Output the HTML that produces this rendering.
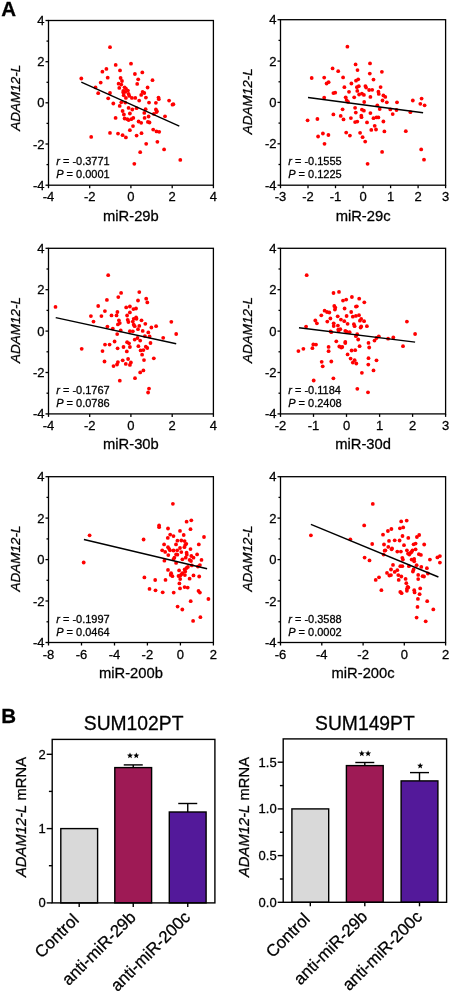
<!DOCTYPE html>
<html><head><meta charset="utf-8"><style>html,body{margin:0;padding:0;background:#fff;}svg{display:block;will-change:transform;}</style></head>
<body><svg width="451" height="992" viewBox="0 0 451 992" font-family="'Liberation Sans', sans-serif">
<style>text{stroke:#000;stroke-width:0.28px;}</style>
<rect width="451" height="992" fill="#fff"/>
<text x="1.3" y="15.8" font-size="20.5" font-weight="bold">A</text>
<g fill="#f00"><circle cx="115.7" cy="64.9" r="1.9"/><circle cx="131.0" cy="63.7" r="1.9"/><circle cx="102.4" cy="71.7" r="1.9"/><circle cx="106.4" cy="68.9" r="1.9"/><circle cx="120.0" cy="70.4" r="1.9"/><circle cx="134.9" cy="74.0" r="1.9"/><circle cx="142.3" cy="72.4" r="1.9"/><circle cx="107.7" cy="77.7" r="1.9"/><circle cx="120.6" cy="78.0" r="1.9"/><circle cx="138.2" cy="79.3" r="1.9"/><circle cx="152.5" cy="80.2" r="1.9"/><circle cx="100.7" cy="82.6" r="1.9"/><circle cx="122.0" cy="81.0" r="1.9"/><circle cx="118.6" cy="83.7" r="1.9"/><circle cx="121.3" cy="84.6" r="1.9"/><circle cx="137.2" cy="83.9" r="1.9"/><circle cx="119.3" cy="87.9" r="1.9"/><circle cx="124.6" cy="87.3" r="1.9"/><circle cx="125.9" cy="88.6" r="1.9"/><circle cx="147.6" cy="87.5" r="1.9"/><circle cx="123.3" cy="90.9" r="1.9"/><circle cx="127.9" cy="90.6" r="1.9"/><circle cx="123.3" cy="92.6" r="1.9"/><circle cx="125.3" cy="91.9" r="1.9"/><circle cx="142.6" cy="91.9" r="1.9"/><circle cx="144.3" cy="93.0" r="1.9"/><circle cx="110.0" cy="93.0" r="1.9"/><circle cx="128.6" cy="93.9" r="1.9"/><circle cx="141.2" cy="94.9" r="1.9"/><circle cx="123.7" cy="95.3" r="1.9"/><circle cx="129.3" cy="95.9" r="1.9"/><circle cx="131.9" cy="97.9" r="1.9"/><circle cx="135.3" cy="97.9" r="1.9"/><circle cx="145.9" cy="97.6" r="1.9"/><circle cx="158.5" cy="97.6" r="1.9"/><circle cx="158.8" cy="99.2" r="1.9"/><circle cx="108.2" cy="98.3" r="1.9"/><circle cx="125.9" cy="97.9" r="1.9"/><circle cx="139.2" cy="100.6" r="1.9"/><circle cx="121.3" cy="102.3" r="1.9"/><circle cx="125.3" cy="102.6" r="1.9"/><circle cx="149.0" cy="102.6" r="1.9"/><circle cx="155.9" cy="102.8" r="1.9"/><circle cx="113.3" cy="103.5" r="1.9"/><circle cx="119.7" cy="105.9" r="1.9"/><circle cx="128.6" cy="107.9" r="1.9"/><circle cx="132.3" cy="109.5" r="1.9"/><circle cx="136.6" cy="108.2" r="1.9"/><circle cx="145.6" cy="109.2" r="1.9"/><circle cx="155.9" cy="109.5" r="1.9"/><circle cx="156.9" cy="111.2" r="1.9"/><circle cx="122.6" cy="111.0" r="1.9"/><circle cx="144.3" cy="112.9" r="1.9"/><circle cx="156.5" cy="112.1" r="1.9"/><circle cx="123.9" cy="114.5" r="1.9"/><circle cx="129.9" cy="113.5" r="1.9"/><circle cx="153.9" cy="113.9" r="1.9"/><circle cx="115.6" cy="117.9" r="1.9"/><circle cx="124.6" cy="118.5" r="1.9"/><circle cx="127.3" cy="119.2" r="1.9"/><circle cx="128.6" cy="120.1" r="1.9"/><circle cx="131.3" cy="119.2" r="1.9"/><circle cx="133.3" cy="117.9" r="1.9"/><circle cx="144.6" cy="117.9" r="1.9"/><circle cx="148.6" cy="116.5" r="1.9"/><circle cx="138.6" cy="121.5" r="1.9"/><circle cx="141.2" cy="122.8" r="1.9"/><circle cx="147.9" cy="121.9" r="1.9"/><circle cx="149.5" cy="122.5" r="1.9"/><circle cx="133.0" cy="126.1" r="1.9"/><circle cx="129.9" cy="130.2" r="1.9"/><circle cx="153.2" cy="129.6" r="1.9"/><circle cx="156.5" cy="131.4" r="1.9"/><circle cx="159.2" cy="131.8" r="1.9"/><circle cx="110.0" cy="132.9" r="1.9"/><circle cx="118.0" cy="133.6" r="1.9"/><circle cx="122.6" cy="135.2" r="1.9"/><circle cx="125.9" cy="137.4" r="1.9"/><circle cx="136.6" cy="135.6" r="1.9"/><circle cx="141.5" cy="133.2" r="1.9"/><circle cx="110.0" cy="47.2" r="1.9"/><circle cx="81.3" cy="78.5" r="1.9"/><circle cx="95.5" cy="87.4" r="1.9"/><circle cx="98.2" cy="93.2" r="1.9"/><circle cx="91.2" cy="136.9" r="1.9"/><circle cx="169.1" cy="100.6" r="1.9"/><circle cx="172.5" cy="104.7" r="1.9"/><circle cx="173.4" cy="104.2" r="1.9"/><circle cx="165.0" cy="116.3" r="1.9"/><circle cx="157.4" cy="141.8" r="1.9"/><circle cx="146.2" cy="143.8" r="1.9"/><circle cx="164.1" cy="149.4" r="1.9"/><circle cx="140.2" cy="152.2" r="1.9"/><circle cx="180.3" cy="159.9" r="1.9"/><circle cx="134.3" cy="163.8" r="1.9"/></g>
<line x1="81.3" y1="82.2" x2="179.3" y2="126.1" stroke="#000" stroke-width="1.4"/>
<rect x="48.5" y="20.5" width="164.9" height="164.7" fill="none" stroke="#000" stroke-width="1.3"/>
<line x1="45.5" y1="185.2" x2="48.5" y2="185.2" stroke="#000" stroke-width="1.3"/>
<text x="44.5" y="189.7" font-size="13" text-anchor="end">-4</text>
<line x1="46.5" y1="164.6" x2="48.5" y2="164.6" stroke="#000" stroke-width="1.3"/>
<line x1="45.5" y1="144.0" x2="48.5" y2="144.0" stroke="#000" stroke-width="1.3"/>
<text x="44.5" y="148.5" font-size="13" text-anchor="end">-2</text>
<line x1="46.5" y1="123.4" x2="48.5" y2="123.4" stroke="#000" stroke-width="1.3"/>
<line x1="45.5" y1="102.8" x2="48.5" y2="102.8" stroke="#000" stroke-width="1.3"/>
<text x="44.5" y="107.3" font-size="13" text-anchor="end">0</text>
<line x1="46.5" y1="82.3" x2="48.5" y2="82.3" stroke="#000" stroke-width="1.3"/>
<line x1="45.5" y1="61.7" x2="48.5" y2="61.7" stroke="#000" stroke-width="1.3"/>
<text x="44.5" y="66.2" font-size="13" text-anchor="end">2</text>
<line x1="46.5" y1="41.1" x2="48.5" y2="41.1" stroke="#000" stroke-width="1.3"/>
<line x1="45.5" y1="20.5" x2="48.5" y2="20.5" stroke="#000" stroke-width="1.3"/>
<text x="44.5" y="25.0" font-size="13" text-anchor="end">4</text>
<line x1="48.5" y1="185.2" x2="48.5" y2="188.2" stroke="#000" stroke-width="1.3"/>
<text x="48.5" y="201.2" font-size="13" text-anchor="middle">-4</text>
<line x1="89.7" y1="185.2" x2="89.7" y2="188.2" stroke="#000" stroke-width="1.3"/>
<text x="89.7" y="201.2" font-size="13" text-anchor="middle">-2</text>
<line x1="130.9" y1="185.2" x2="130.9" y2="188.2" stroke="#000" stroke-width="1.3"/>
<text x="130.9" y="201.2" font-size="13" text-anchor="middle">0</text>
<line x1="172.2" y1="185.2" x2="172.2" y2="188.2" stroke="#000" stroke-width="1.3"/>
<text x="172.2" y="201.2" font-size="13" text-anchor="middle">2</text>
<line x1="213.4" y1="185.2" x2="213.4" y2="188.2" stroke="#000" stroke-width="1.3"/>
<text x="213.4" y="201.2" font-size="13" text-anchor="middle">4</text>
<text x="130.9" y="220.5" font-size="14.75" text-anchor="middle">miR-29b</text>
<text transform="translate(20.3,97.8) rotate(-90)" font-size="13.5" font-style="italic" text-anchor="middle">ADAM12-L</text>
<text x="56.2" y="165.4" font-size="11"><tspan font-style="italic">r</tspan> = -0.3771</text>
<text x="56.2" y="178.4" font-size="11"><tspan font-style="italic">P</tspan> = 0.0001</text>
<g fill="#f00"><circle cx="347.4" cy="46.7" r="1.9"/><circle cx="355.6" cy="64.4" r="1.9"/><circle cx="332.6" cy="68.4" r="1.9"/><circle cx="338.2" cy="71.2" r="1.9"/><circle cx="357.5" cy="70.1" r="1.9"/><circle cx="311.7" cy="78.0" r="1.9"/><circle cx="324.2" cy="77.6" r="1.9"/><circle cx="343.1" cy="77.4" r="1.9"/><circle cx="356.0" cy="80.7" r="1.9"/><circle cx="358.2" cy="79.3" r="1.9"/><circle cx="326.6" cy="83.5" r="1.9"/><circle cx="328.6" cy="82.2" r="1.9"/><circle cx="351.4" cy="83.5" r="1.9"/><circle cx="344.4" cy="87.2" r="1.9"/><circle cx="356.9" cy="87.2" r="1.9"/><circle cx="358.8" cy="86.2" r="1.9"/><circle cx="357.3" cy="90.9" r="1.9"/><circle cx="349.0" cy="91.8" r="1.9"/><circle cx="333.4" cy="93.1" r="1.9"/><circle cx="335.2" cy="92.7" r="1.9"/><circle cx="359.1" cy="94.5" r="1.9"/><circle cx="361.9" cy="93.6" r="1.9"/><circle cx="324.2" cy="97.7" r="1.9"/><circle cx="345.7" cy="97.3" r="1.9"/><circle cx="354.2" cy="97.3" r="1.9"/><circle cx="346.6" cy="100.1" r="1.9"/><circle cx="348.1" cy="101.9" r="1.9"/><circle cx="342.6" cy="109.3" r="1.9"/><circle cx="355.1" cy="107.8" r="1.9"/><circle cx="361.9" cy="109.6" r="1.9"/><circle cx="333.4" cy="114.4" r="1.9"/><circle cx="340.7" cy="115.9" r="1.9"/><circle cx="355.8" cy="112.6" r="1.9"/><circle cx="361.3" cy="115.7" r="1.9"/><circle cx="361.5" cy="117.2" r="1.9"/><circle cx="307.6" cy="120.3" r="1.9"/><circle cx="317.4" cy="119.0" r="1.9"/><circle cx="343.5" cy="119.4" r="1.9"/><circle cx="350.9" cy="118.1" r="1.9"/><circle cx="355.1" cy="122.1" r="1.9"/><circle cx="357.3" cy="121.6" r="1.9"/><circle cx="346.2" cy="132.6" r="1.9"/><circle cx="322.9" cy="133.5" r="1.9"/><circle cx="328.4" cy="135.0" r="1.9"/><circle cx="349.9" cy="135.6" r="1.9"/><circle cx="360.1" cy="132.8" r="1.9"/><circle cx="362.6" cy="137.2" r="1.9"/><circle cx="318.1" cy="136.5" r="1.9"/><circle cx="324.5" cy="143.8" r="1.9"/><circle cx="370.0" cy="63.4" r="1.9"/><circle cx="369.8" cy="73.6" r="1.9"/><circle cx="381.9" cy="71.8" r="1.9"/><circle cx="373.5" cy="79.6" r="1.9"/><circle cx="365.4" cy="86.1" r="1.9"/><circle cx="366.1" cy="87.6" r="1.9"/><circle cx="380.6" cy="87.1" r="1.9"/><circle cx="369.1" cy="90.0" r="1.9"/><circle cx="372.2" cy="89.8" r="1.9"/><circle cx="378.4" cy="91.7" r="1.9"/><circle cx="378.8" cy="93.9" r="1.9"/><circle cx="363.9" cy="94.9" r="1.9"/><circle cx="370.4" cy="96.9" r="1.9"/><circle cx="383.4" cy="95.4" r="1.9"/><circle cx="385.3" cy="96.9" r="1.9"/><circle cx="364.2" cy="102.0" r="1.9"/><circle cx="382.5" cy="100.5" r="1.9"/><circle cx="386.8" cy="102.3" r="1.9"/><circle cx="397.0" cy="102.3" r="1.9"/><circle cx="412.8" cy="100.5" r="1.9"/><circle cx="421.6" cy="98.6" r="1.9"/><circle cx="420.3" cy="103.8" r="1.9"/><circle cx="424.6" cy="105.3" r="1.9"/><circle cx="377.3" cy="105.3" r="1.9"/><circle cx="379.7" cy="109.0" r="1.9"/><circle cx="390.3" cy="109.4" r="1.9"/><circle cx="396.5" cy="110.0" r="1.9"/><circle cx="363.9" cy="110.7" r="1.9"/><circle cx="392.7" cy="114.1" r="1.9"/><circle cx="410.4" cy="112.2" r="1.9"/><circle cx="370.4" cy="113.1" r="1.9"/><circle cx="373.5" cy="118.2" r="1.9"/><circle cx="376.5" cy="117.4" r="1.9"/><circle cx="378.4" cy="117.4" r="1.9"/><circle cx="367.0" cy="122.4" r="1.9"/><circle cx="383.4" cy="121.5" r="1.9"/><circle cx="374.7" cy="125.8" r="1.9"/><circle cx="371.3" cy="129.9" r="1.9"/><circle cx="376.0" cy="129.5" r="1.9"/><circle cx="384.4" cy="131.4" r="1.9"/><circle cx="405.8" cy="131.2" r="1.9"/><circle cx="365.2" cy="141.6" r="1.9"/><circle cx="421.2" cy="149.4" r="1.9"/><circle cx="382.1" cy="151.9" r="1.9"/><circle cx="424.0" cy="159.7" r="1.9"/><circle cx="367.6" cy="163.8" r="1.9"/></g>
<line x1="308" y1="97.5" x2="423.1" y2="112.8" stroke="#000" stroke-width="1.4"/>
<rect x="280.5" y="19.7" width="165.1" height="165.5" fill="none" stroke="#000" stroke-width="1.3"/>
<line x1="277.5" y1="185.2" x2="280.5" y2="185.2" stroke="#000" stroke-width="1.3"/>
<text x="276.5" y="189.7" font-size="13" text-anchor="end">-4</text>
<line x1="278.5" y1="164.5" x2="280.5" y2="164.5" stroke="#000" stroke-width="1.3"/>
<line x1="277.5" y1="143.8" x2="280.5" y2="143.8" stroke="#000" stroke-width="1.3"/>
<text x="276.5" y="148.3" font-size="13" text-anchor="end">-2</text>
<line x1="278.5" y1="123.1" x2="280.5" y2="123.1" stroke="#000" stroke-width="1.3"/>
<line x1="277.5" y1="102.4" x2="280.5" y2="102.4" stroke="#000" stroke-width="1.3"/>
<text x="276.5" y="106.9" font-size="13" text-anchor="end">0</text>
<line x1="278.5" y1="81.8" x2="280.5" y2="81.8" stroke="#000" stroke-width="1.3"/>
<line x1="277.5" y1="61.1" x2="280.5" y2="61.1" stroke="#000" stroke-width="1.3"/>
<text x="276.5" y="65.6" font-size="13" text-anchor="end">2</text>
<line x1="278.5" y1="40.4" x2="280.5" y2="40.4" stroke="#000" stroke-width="1.3"/>
<line x1="277.5" y1="19.7" x2="280.5" y2="19.7" stroke="#000" stroke-width="1.3"/>
<text x="276.5" y="24.2" font-size="13" text-anchor="end">4</text>
<line x1="280.5" y1="185.2" x2="280.5" y2="188.2" stroke="#000" stroke-width="1.3"/>
<text x="280.5" y="201.2" font-size="13" text-anchor="middle">-3</text>
<line x1="308.0" y1="185.2" x2="308.0" y2="188.2" stroke="#000" stroke-width="1.3"/>
<text x="308.0" y="201.2" font-size="13" text-anchor="middle">-2</text>
<line x1="335.5" y1="185.2" x2="335.5" y2="188.2" stroke="#000" stroke-width="1.3"/>
<text x="335.5" y="201.2" font-size="13" text-anchor="middle">-1</text>
<line x1="363.1" y1="185.2" x2="363.1" y2="188.2" stroke="#000" stroke-width="1.3"/>
<text x="363.1" y="201.2" font-size="13" text-anchor="middle">0</text>
<line x1="390.6" y1="185.2" x2="390.6" y2="188.2" stroke="#000" stroke-width="1.3"/>
<text x="390.6" y="201.2" font-size="13" text-anchor="middle">1</text>
<line x1="418.1" y1="185.2" x2="418.1" y2="188.2" stroke="#000" stroke-width="1.3"/>
<text x="418.1" y="201.2" font-size="13" text-anchor="middle">2</text>
<line x1="445.6" y1="185.2" x2="445.6" y2="188.2" stroke="#000" stroke-width="1.3"/>
<text x="445.6" y="201.2" font-size="13" text-anchor="middle">3</text>
<text x="363.1" y="220.5" font-size="14.75" text-anchor="middle">miR-29c</text>
<text transform="translate(252.3,101.3) rotate(-90)" font-size="13.5" font-style="italic" text-anchor="middle">ADAM12-L</text>
<text x="288.2" y="165.4" font-size="11"><tspan font-style="italic">r</tspan> = -0.1555</text>
<text x="288.2" y="178.4" font-size="11"><tspan font-style="italic">P</tspan> = 0.1225</text>
<g fill="#f00"><circle cx="108.2" cy="275.2" r="1.9"/><circle cx="121.1" cy="292.9" r="1.9"/><circle cx="118.3" cy="297.1" r="1.9"/><circle cx="106.9" cy="299.9" r="1.9"/><circle cx="55.5" cy="306.9" r="1.9"/><circle cx="98.2" cy="306.0" r="1.9"/><circle cx="126.2" cy="307.4" r="1.9"/><circle cx="129.9" cy="306.5" r="1.9"/><circle cx="104.9" cy="311.1" r="1.9"/><circle cx="117.4" cy="312.0" r="1.9"/><circle cx="129.9" cy="312.4" r="1.9"/><circle cx="90.9" cy="316.1" r="1.9"/><circle cx="101.4" cy="316.1" r="1.9"/><circle cx="111.5" cy="315.4" r="1.9"/><circle cx="116.5" cy="315.4" r="1.9"/><circle cx="127.1" cy="315.5" r="1.9"/><circle cx="93.5" cy="321.6" r="1.9"/><circle cx="118.9" cy="320.3" r="1.9"/><circle cx="127.7" cy="319.8" r="1.9"/><circle cx="128.4" cy="322.0" r="1.9"/><circle cx="119.8" cy="323.1" r="1.9"/><circle cx="117.9" cy="324.4" r="1.9"/><circle cx="107.4" cy="326.6" r="1.9"/><circle cx="112.8" cy="328.6" r="1.9"/><circle cx="120.7" cy="330.4" r="1.9"/><circle cx="129.9" cy="331.2" r="1.9"/><circle cx="117.2" cy="334.1" r="1.9"/><circle cx="114.6" cy="341.5" r="1.9"/><circle cx="105.0" cy="344.6" r="1.9"/><circle cx="109.6" cy="344.6" r="1.9"/><circle cx="127.1" cy="342.2" r="1.9"/><circle cx="129.0" cy="343.3" r="1.9"/><circle cx="81.7" cy="348.8" r="1.9"/><circle cx="102.5" cy="351.1" r="1.9"/><circle cx="117.6" cy="348.3" r="1.9"/><circle cx="123.5" cy="347.0" r="1.9"/><circle cx="129.9" cy="347.0" r="1.9"/><circle cx="126.8" cy="351.4" r="1.9"/><circle cx="104.5" cy="361.5" r="1.9"/><circle cx="117.9" cy="362.1" r="1.9"/><circle cx="122.7" cy="360.3" r="1.9"/><circle cx="128.1" cy="359.0" r="1.9"/><circle cx="117.0" cy="364.5" r="1.9"/><circle cx="125.8" cy="363.9" r="1.9"/><circle cx="129.9" cy="364.9" r="1.9"/><circle cx="113.5" cy="366.1" r="1.9"/><circle cx="119.8" cy="380.7" r="1.9"/><circle cx="139.3" cy="292.1" r="1.9"/><circle cx="138.0" cy="300.5" r="1.9"/><circle cx="146.2" cy="298.7" r="1.9"/><circle cx="147.3" cy="302.4" r="1.9"/><circle cx="133.4" cy="309.1" r="1.9"/><circle cx="136.0" cy="308.5" r="1.9"/><circle cx="133.7" cy="318.8" r="1.9"/><circle cx="136.1" cy="317.3" r="1.9"/><circle cx="136.5" cy="318.8" r="1.9"/><circle cx="141.5" cy="320.3" r="1.9"/><circle cx="132.8" cy="321.6" r="1.9"/><circle cx="145.3" cy="323.8" r="1.9"/><circle cx="171.3" cy="321.8" r="1.9"/><circle cx="133.7" cy="324.7" r="1.9"/><circle cx="139.3" cy="325.9" r="1.9"/><circle cx="156.1" cy="326.2" r="1.9"/><circle cx="151.4" cy="327.5" r="1.9"/><circle cx="134.7" cy="326.2" r="1.9"/><circle cx="132.8" cy="331.3" r="1.9"/><circle cx="138.0" cy="329.2" r="1.9"/><circle cx="142.7" cy="330.9" r="1.9"/><circle cx="148.3" cy="332.4" r="1.9"/><circle cx="176.2" cy="334.0" r="1.9"/><circle cx="144.9" cy="336.1" r="1.9"/><circle cx="149.6" cy="336.5" r="1.9"/><circle cx="137.5" cy="338.0" r="1.9"/><circle cx="134.7" cy="339.6" r="1.9"/><circle cx="140.2" cy="340.6" r="1.9"/><circle cx="163.2" cy="337.8" r="1.9"/><circle cx="150.5" cy="343.0" r="1.9"/><circle cx="138.4" cy="346.2" r="1.9"/><circle cx="145.8" cy="346.7" r="1.9"/><circle cx="147.3" cy="348.0" r="1.9"/><circle cx="140.6" cy="350.4" r="1.9"/><circle cx="143.4" cy="350.1" r="1.9"/><circle cx="142.1" cy="354.7" r="1.9"/><circle cx="153.8" cy="358.3" r="1.9"/><circle cx="144.0" cy="360.1" r="1.9"/><circle cx="130.9" cy="362.5" r="1.9"/><circle cx="143.4" cy="370.4" r="1.9"/><circle cx="140.2" cy="372.4" r="1.9"/><circle cx="135.0" cy="378.2" r="1.9"/><circle cx="149.0" cy="388.6" r="1.9"/><circle cx="148.1" cy="392.5" r="1.9"/></g>
<line x1="55.7" y1="317.6" x2="176.2" y2="343.7" stroke="#000" stroke-width="1.4"/>
<rect x="48.5" y="248.3" width="164.9" height="165.6" fill="none" stroke="#000" stroke-width="1.3"/>
<line x1="45.5" y1="413.9" x2="48.5" y2="413.9" stroke="#000" stroke-width="1.3"/>
<text x="44.5" y="418.4" font-size="13" text-anchor="end">-4</text>
<line x1="46.5" y1="393.2" x2="48.5" y2="393.2" stroke="#000" stroke-width="1.3"/>
<line x1="45.5" y1="372.5" x2="48.5" y2="372.5" stroke="#000" stroke-width="1.3"/>
<text x="44.5" y="377.0" font-size="13" text-anchor="end">-2</text>
<line x1="46.5" y1="351.8" x2="48.5" y2="351.8" stroke="#000" stroke-width="1.3"/>
<line x1="45.5" y1="331.1" x2="48.5" y2="331.1" stroke="#000" stroke-width="1.3"/>
<text x="44.5" y="335.6" font-size="13" text-anchor="end">0</text>
<line x1="46.5" y1="310.4" x2="48.5" y2="310.4" stroke="#000" stroke-width="1.3"/>
<line x1="45.5" y1="289.7" x2="48.5" y2="289.7" stroke="#000" stroke-width="1.3"/>
<text x="44.5" y="294.2" font-size="13" text-anchor="end">2</text>
<line x1="46.5" y1="269.0" x2="48.5" y2="269.0" stroke="#000" stroke-width="1.3"/>
<line x1="45.5" y1="248.3" x2="48.5" y2="248.3" stroke="#000" stroke-width="1.3"/>
<text x="44.5" y="252.8" font-size="13" text-anchor="end">4</text>
<line x1="48.5" y1="413.9" x2="48.5" y2="416.9" stroke="#000" stroke-width="1.3"/>
<text x="48.5" y="429.9" font-size="13" text-anchor="middle">-4</text>
<line x1="89.7" y1="413.9" x2="89.7" y2="416.9" stroke="#000" stroke-width="1.3"/>
<text x="89.7" y="429.9" font-size="13" text-anchor="middle">-2</text>
<line x1="130.9" y1="413.9" x2="130.9" y2="416.9" stroke="#000" stroke-width="1.3"/>
<text x="130.9" y="429.9" font-size="13" text-anchor="middle">0</text>
<line x1="172.2" y1="413.9" x2="172.2" y2="416.9" stroke="#000" stroke-width="1.3"/>
<text x="172.2" y="429.9" font-size="13" text-anchor="middle">2</text>
<line x1="213.4" y1="413.9" x2="213.4" y2="416.9" stroke="#000" stroke-width="1.3"/>
<text x="213.4" y="429.9" font-size="13" text-anchor="middle">4</text>
<text x="130.9" y="449.2" font-size="14.75" text-anchor="middle">miR-30b</text>
<text transform="translate(20.3,330.0) rotate(-90)" font-size="13.5" font-style="italic" text-anchor="middle">ADAM12-L</text>
<text x="56.2" y="394.1" font-size="11"><tspan font-style="italic">r</tspan> = -0.1767</text>
<text x="56.2" y="407.1" font-size="11"><tspan font-style="italic">P</tspan> = 0.0786</text>
<g fill="#f00"><circle cx="333.5" cy="293.0" r="1.9"/><circle cx="339.0" cy="291.9" r="1.9"/><circle cx="343.0" cy="300.6" r="1.9"/><circle cx="346.2" cy="299.6" r="1.9"/><circle cx="351.9" cy="297.0" r="1.9"/><circle cx="359.2" cy="298.7" r="1.9"/><circle cx="364.3" cy="302.3" r="1.9"/><circle cx="334.3" cy="306.0" r="1.9"/><circle cx="335.3" cy="307.6" r="1.9"/><circle cx="334.9" cy="309.6" r="1.9"/><circle cx="344.6" cy="308.5" r="1.9"/><circle cx="355.9" cy="306.6" r="1.9"/><circle cx="356.8" cy="306.3" r="1.9"/><circle cx="324.6" cy="310.7" r="1.9"/><circle cx="327.0" cy="312.0" r="1.9"/><circle cx="329.3" cy="312.5" r="1.9"/><circle cx="321.3" cy="315.3" r="1.9"/><circle cx="351.2" cy="312.0" r="1.9"/><circle cx="337.7" cy="316.3" r="1.9"/><circle cx="346.6" cy="316.0" r="1.9"/><circle cx="352.8" cy="316.7" r="1.9"/><circle cx="355.9" cy="315.9" r="1.9"/><circle cx="359.0" cy="315.2" r="1.9"/><circle cx="315.3" cy="320.5" r="1.9"/><circle cx="316.9" cy="323.3" r="1.9"/><circle cx="327.3" cy="321.6" r="1.9"/><circle cx="330.4" cy="318.5" r="1.9"/><circle cx="340.9" cy="319.6" r="1.9"/><circle cx="344.3" cy="321.2" r="1.9"/><circle cx="347.6" cy="323.8" r="1.9"/><circle cx="361.2" cy="318.9" r="1.9"/><circle cx="359.9" cy="320.7" r="1.9"/><circle cx="364.1" cy="321.2" r="1.9"/><circle cx="333.7" cy="323.3" r="1.9"/><circle cx="333.7" cy="326.0" r="1.9"/><circle cx="337.9" cy="325.6" r="1.9"/><circle cx="353.9" cy="324.2" r="1.9"/><circle cx="354.6" cy="326.2" r="1.9"/><circle cx="361.2" cy="326.5" r="1.9"/><circle cx="360.6" cy="327.6" r="1.9"/><circle cx="366.9" cy="326.2" r="1.9"/><circle cx="338.3" cy="329.6" r="1.9"/><circle cx="340.3" cy="329.2" r="1.9"/><circle cx="338.6" cy="330.9" r="1.9"/><circle cx="345.3" cy="330.9" r="1.9"/><circle cx="346.6" cy="331.6" r="1.9"/><circle cx="349.6" cy="332.2" r="1.9"/><circle cx="330.6" cy="331.3" r="1.9"/><circle cx="331.3" cy="332.2" r="1.9"/><circle cx="357.2" cy="334.2" r="1.9"/><circle cx="355.9" cy="336.2" r="1.9"/><circle cx="358.2" cy="339.5" r="1.9"/><circle cx="336.3" cy="341.3" r="1.9"/><circle cx="345.3" cy="341.9" r="1.9"/><circle cx="345.3" cy="343.1" r="1.9"/><circle cx="368.5" cy="342.9" r="1.9"/><circle cx="313.3" cy="344.5" r="1.9"/><circle cx="316.0" cy="344.6" r="1.9"/><circle cx="312.4" cy="348.2" r="1.9"/><circle cx="328.6" cy="346.9" r="1.9"/><circle cx="328.6" cy="351.2" r="1.9"/><circle cx="339.3" cy="346.5" r="1.9"/><circle cx="341.3" cy="347.5" r="1.9"/><circle cx="342.3" cy="347.0" r="1.9"/><circle cx="359.6" cy="346.2" r="1.9"/><circle cx="369.2" cy="347.5" r="1.9"/><circle cx="351.6" cy="350.5" r="1.9"/><circle cx="355.2" cy="350.2" r="1.9"/><circle cx="347.6" cy="354.4" r="1.9"/><circle cx="321.7" cy="361.8" r="1.9"/><circle cx="331.3" cy="361.5" r="1.9"/><circle cx="350.6" cy="358.6" r="1.9"/><circle cx="354.6" cy="360.2" r="1.9"/><circle cx="352.8" cy="362.6" r="1.9"/><circle cx="356.3" cy="363.5" r="1.9"/><circle cx="368.5" cy="358.2" r="1.9"/><circle cx="368.3" cy="364.6" r="1.9"/><circle cx="306.7" cy="275.2" r="1.9"/><circle cx="306.1" cy="326.6" r="1.9"/><circle cx="298.4" cy="351.1" r="1.9"/><circle cx="303.4" cy="348.8" r="1.9"/><circle cx="322.7" cy="366.3" r="1.9"/><circle cx="313.7" cy="380.5" r="1.9"/><circle cx="333.4" cy="378.3" r="1.9"/><circle cx="357.3" cy="388.8" r="1.9"/><circle cx="361.9" cy="372.8" r="1.9"/><circle cx="406.9" cy="321.6" r="1.9"/><circle cx="415.1" cy="334.0" r="1.9"/><circle cx="378.8" cy="336.3" r="1.9"/><circle cx="376.5" cy="338.0" r="1.9"/><circle cx="388.1" cy="338.7" r="1.9"/><circle cx="393.3" cy="337.4" r="1.9"/><circle cx="374.5" cy="340.6" r="1.9"/><circle cx="403.0" cy="346.2" r="1.9"/><circle cx="376.5" cy="360.3" r="1.9"/><circle cx="373.5" cy="370.4" r="1.9"/><circle cx="368.0" cy="392.3" r="1.9"/></g>
<line x1="299" y1="327.7" x2="415.1" y2="342.1" stroke="#000" stroke-width="1.4"/>
<rect x="280.5" y="248.3" width="165.1" height="165.6" fill="none" stroke="#000" stroke-width="1.3"/>
<line x1="277.5" y1="413.9" x2="280.5" y2="413.9" stroke="#000" stroke-width="1.3"/>
<text x="276.5" y="418.4" font-size="13" text-anchor="end">-4</text>
<line x1="278.5" y1="393.2" x2="280.5" y2="393.2" stroke="#000" stroke-width="1.3"/>
<line x1="277.5" y1="372.5" x2="280.5" y2="372.5" stroke="#000" stroke-width="1.3"/>
<text x="276.5" y="377.0" font-size="13" text-anchor="end">-2</text>
<line x1="278.5" y1="351.8" x2="280.5" y2="351.8" stroke="#000" stroke-width="1.3"/>
<line x1="277.5" y1="331.1" x2="280.5" y2="331.1" stroke="#000" stroke-width="1.3"/>
<text x="276.5" y="335.6" font-size="13" text-anchor="end">0</text>
<line x1="278.5" y1="310.4" x2="280.5" y2="310.4" stroke="#000" stroke-width="1.3"/>
<line x1="277.5" y1="289.7" x2="280.5" y2="289.7" stroke="#000" stroke-width="1.3"/>
<text x="276.5" y="294.2" font-size="13" text-anchor="end">2</text>
<line x1="278.5" y1="269.0" x2="280.5" y2="269.0" stroke="#000" stroke-width="1.3"/>
<line x1="277.5" y1="248.3" x2="280.5" y2="248.3" stroke="#000" stroke-width="1.3"/>
<text x="276.5" y="252.8" font-size="13" text-anchor="end">4</text>
<line x1="280.5" y1="413.9" x2="280.5" y2="416.9" stroke="#000" stroke-width="1.3"/>
<text x="280.5" y="429.9" font-size="13" text-anchor="middle">-2</text>
<line x1="313.5" y1="413.9" x2="313.5" y2="416.9" stroke="#000" stroke-width="1.3"/>
<text x="313.5" y="429.9" font-size="13" text-anchor="middle">-1</text>
<line x1="346.5" y1="413.9" x2="346.5" y2="416.9" stroke="#000" stroke-width="1.3"/>
<text x="346.5" y="429.9" font-size="13" text-anchor="middle">0</text>
<line x1="379.6" y1="413.9" x2="379.6" y2="416.9" stroke="#000" stroke-width="1.3"/>
<text x="379.6" y="429.9" font-size="13" text-anchor="middle">1</text>
<line x1="412.6" y1="413.9" x2="412.6" y2="416.9" stroke="#000" stroke-width="1.3"/>
<text x="412.6" y="429.9" font-size="13" text-anchor="middle">2</text>
<line x1="445.6" y1="413.9" x2="445.6" y2="416.9" stroke="#000" stroke-width="1.3"/>
<text x="445.6" y="429.9" font-size="13" text-anchor="middle">3</text>
<text x="363.1" y="449.2" font-size="14.75" text-anchor="middle">miR-30d</text>
<text transform="translate(252.3,330.0) rotate(-90)" font-size="13.5" font-style="italic" text-anchor="middle">ADAM12-L</text>
<text x="288.2" y="394.1" font-size="11"><tspan font-style="italic">r</tspan> = -0.1184</text>
<text x="288.2" y="407.1" font-size="11"><tspan font-style="italic">P</tspan> = 0.2408</text>
<g fill="#f00"><circle cx="89.6" cy="535.3" r="1.9"/><circle cx="83.7" cy="562.5" r="1.9"/><circle cx="186.6" cy="521.7" r="1.9"/><circle cx="191.3" cy="520.3" r="1.9"/><circle cx="159.1" cy="525.5" r="1.9"/><circle cx="159.1" cy="527.2" r="1.9"/><circle cx="168.0" cy="528.5" r="1.9"/><circle cx="190.5" cy="529.2" r="1.9"/><circle cx="180.0" cy="530.9" r="1.9"/><circle cx="170.2" cy="534.6" r="1.9"/><circle cx="173.5" cy="536.1" r="1.9"/><circle cx="183.7" cy="535.0" r="1.9"/><circle cx="204.0" cy="537.0" r="1.9"/><circle cx="167.8" cy="537.9" r="1.9"/><circle cx="177.4" cy="540.7" r="1.9"/><circle cx="181.3" cy="540.5" r="1.9"/><circle cx="184.6" cy="541.1" r="1.9"/><circle cx="186.3" cy="543.8" r="1.9"/><circle cx="185.2" cy="544.9" r="1.9"/><circle cx="184.4" cy="547.2" r="1.9"/><circle cx="164.1" cy="544.4" r="1.9"/><circle cx="176.0" cy="544.4" r="1.9"/><circle cx="198.8" cy="544.4" r="1.9"/><circle cx="168.0" cy="547.2" r="1.9"/><circle cx="169.1" cy="548.8" r="1.9"/><circle cx="170.0" cy="550.3" r="1.9"/><circle cx="173.5" cy="550.5" r="1.9"/><circle cx="177.2" cy="550.3" r="1.9"/><circle cx="180.0" cy="548.0" r="1.9"/><circle cx="181.3" cy="552.1" r="1.9"/><circle cx="190.5" cy="549.1" r="1.9"/><circle cx="162.2" cy="550.3" r="1.9"/><circle cx="165.2" cy="551.9" r="1.9"/><circle cx="186.6" cy="552.7" r="1.9"/><circle cx="186.8" cy="554.7" r="1.9"/><circle cx="168.3" cy="555.1" r="1.9"/><circle cx="176.1" cy="554.4" r="1.9"/><circle cx="177.4" cy="554.7" r="1.9"/><circle cx="197.1" cy="554.4" r="1.9"/><circle cx="191.3" cy="556.0" r="1.9"/><circle cx="193.5" cy="557.7" r="1.9"/><circle cx="185.7" cy="557.7" r="1.9"/><circle cx="174.4" cy="557.7" r="1.9"/><circle cx="173.5" cy="559.1" r="1.9"/><circle cx="182.4" cy="559.3" r="1.9"/><circle cx="189.6" cy="559.9" r="1.9"/><circle cx="191.0" cy="561.0" r="1.9"/><circle cx="201.5" cy="559.9" r="1.9"/><circle cx="164.4" cy="560.7" r="1.9"/><circle cx="176.1" cy="562.9" r="1.9"/><circle cx="199.9" cy="565.1" r="1.9"/><circle cx="197.9" cy="566.6" r="1.9"/><circle cx="191.8" cy="565.4" r="1.9"/><circle cx="187.9" cy="566.9" r="1.9"/><circle cx="186.6" cy="568.0" r="1.9"/><circle cx="184.6" cy="569.5" r="1.9"/><circle cx="168.0" cy="569.9" r="1.9"/><circle cx="179.1" cy="570.4" r="1.9"/><circle cx="185.2" cy="571.5" r="1.9"/><circle cx="182.4" cy="573.2" r="1.9"/><circle cx="184.9" cy="575.1" r="1.9"/><circle cx="171.1" cy="573.2" r="1.9"/><circle cx="170.7" cy="574.9" r="1.9"/><circle cx="172.4" cy="576.2" r="1.9"/><circle cx="178.5" cy="576.0" r="1.9"/><circle cx="180.2" cy="575.8" r="1.9"/><circle cx="181.3" cy="574.5" r="1.9"/><circle cx="193.5" cy="575.4" r="1.9"/><circle cx="199.2" cy="576.5" r="1.9"/><circle cx="165.5" cy="579.9" r="1.9"/><circle cx="180.2" cy="579.1" r="1.9"/><circle cx="189.6" cy="578.7" r="1.9"/><circle cx="179.4" cy="583.4" r="1.9"/><circle cx="180.0" cy="588.4" r="1.9"/><circle cx="184.6" cy="587.1" r="1.9"/><circle cx="187.7" cy="587.6" r="1.9"/><circle cx="162.7" cy="592.3" r="1.9"/><circle cx="173.7" cy="592.6" r="1.9"/><circle cx="198.5" cy="590.9" r="1.9"/><circle cx="199.9" cy="592.6" r="1.9"/><circle cx="172.9" cy="503.8" r="1.9"/><circle cx="143.6" cy="539.5" r="1.9"/><circle cx="208.4" cy="599.0" r="1.9"/><circle cx="144.4" cy="577.4" r="1.9"/><circle cx="155.2" cy="580.0" r="1.9"/><circle cx="149.5" cy="588.9" r="1.9"/><circle cx="155.5" cy="590.3" r="1.9"/><circle cx="190.7" cy="601.2" r="1.9"/><circle cx="177.6" cy="606.6" r="1.9"/><circle cx="182.3" cy="609.5" r="1.9"/><circle cx="200.4" cy="617.2" r="1.9"/><circle cx="193.1" cy="620.9" r="1.9"/></g>
<line x1="83.9" y1="539.5" x2="207.1" y2="568.7" stroke="#000" stroke-width="1.4"/>
<rect x="48.5" y="476.7" width="164.9" height="165.8" fill="none" stroke="#000" stroke-width="1.3"/>
<line x1="45.5" y1="642.5" x2="48.5" y2="642.5" stroke="#000" stroke-width="1.3"/>
<text x="44.5" y="647.0" font-size="13" text-anchor="end">-4</text>
<line x1="46.5" y1="621.8" x2="48.5" y2="621.8" stroke="#000" stroke-width="1.3"/>
<line x1="45.5" y1="601.0" x2="48.5" y2="601.0" stroke="#000" stroke-width="1.3"/>
<text x="44.5" y="605.5" font-size="13" text-anchor="end">-2</text>
<line x1="46.5" y1="580.3" x2="48.5" y2="580.3" stroke="#000" stroke-width="1.3"/>
<line x1="45.5" y1="559.6" x2="48.5" y2="559.6" stroke="#000" stroke-width="1.3"/>
<text x="44.5" y="564.1" font-size="13" text-anchor="end">0</text>
<line x1="46.5" y1="538.9" x2="48.5" y2="538.9" stroke="#000" stroke-width="1.3"/>
<line x1="45.5" y1="518.1" x2="48.5" y2="518.1" stroke="#000" stroke-width="1.3"/>
<text x="44.5" y="522.6" font-size="13" text-anchor="end">2</text>
<line x1="46.5" y1="497.4" x2="48.5" y2="497.4" stroke="#000" stroke-width="1.3"/>
<line x1="45.5" y1="476.7" x2="48.5" y2="476.7" stroke="#000" stroke-width="1.3"/>
<text x="44.5" y="481.2" font-size="13" text-anchor="end">4</text>
<line x1="48.5" y1="642.5" x2="48.5" y2="645.5" stroke="#000" stroke-width="1.3"/>
<text x="48.5" y="658.5" font-size="13" text-anchor="middle">-8</text>
<line x1="81.5" y1="642.5" x2="81.5" y2="645.5" stroke="#000" stroke-width="1.3"/>
<text x="81.5" y="658.5" font-size="13" text-anchor="middle">-6</text>
<line x1="114.5" y1="642.5" x2="114.5" y2="645.5" stroke="#000" stroke-width="1.3"/>
<text x="114.5" y="658.5" font-size="13" text-anchor="middle">-4</text>
<line x1="147.4" y1="642.5" x2="147.4" y2="645.5" stroke="#000" stroke-width="1.3"/>
<text x="147.4" y="658.5" font-size="13" text-anchor="middle">-2</text>
<line x1="180.4" y1="642.5" x2="180.4" y2="645.5" stroke="#000" stroke-width="1.3"/>
<text x="180.4" y="658.5" font-size="13" text-anchor="middle">0</text>
<line x1="213.4" y1="642.5" x2="213.4" y2="645.5" stroke="#000" stroke-width="1.3"/>
<text x="213.4" y="658.5" font-size="13" text-anchor="middle">2</text>
<text x="130.9" y="677.8" font-size="14.75" text-anchor="middle">miR-200b</text>
<text transform="translate(20.3,558.5) rotate(-90)" font-size="13.5" font-style="italic" text-anchor="middle">ADAM12-L</text>
<text x="56.2" y="622.7" font-size="11"><tspan font-style="italic">r</tspan> = -0.1997</text>
<text x="56.2" y="635.7" font-size="11"><tspan font-style="italic">P</tspan> = 0.0464</text>
<g fill="#f00"><circle cx="310.9" cy="535.3" r="1.9"/><circle cx="350.3" cy="539.3" r="1.9"/><circle cx="401.2" cy="521.4" r="1.9"/><circle cx="406.7" cy="520.6" r="1.9"/><circle cx="387.9" cy="531.0" r="1.9"/><circle cx="391.4" cy="529.0" r="1.9"/><circle cx="399.9" cy="528.3" r="1.9"/><circle cx="403.2" cy="527.4" r="1.9"/><circle cx="383.0" cy="534.7" r="1.9"/><circle cx="402.5" cy="536.0" r="1.9"/><circle cx="408.3" cy="537.9" r="1.9"/><circle cx="416.9" cy="537.0" r="1.9"/><circle cx="419.2" cy="535.0" r="1.9"/><circle cx="389.0" cy="540.9" r="1.9"/><circle cx="394.7" cy="540.3" r="1.9"/><circle cx="399.6" cy="540.5" r="1.9"/><circle cx="384.0" cy="544.5" r="1.9"/><circle cx="404.0" cy="545.2" r="1.9"/><circle cx="413.6" cy="544.3" r="1.9"/><circle cx="415.6" cy="543.6" r="1.9"/><circle cx="424.2" cy="544.5" r="1.9"/><circle cx="388.3" cy="546.9" r="1.9"/><circle cx="392.0" cy="548.3" r="1.9"/><circle cx="391.6" cy="549.3" r="1.9"/><circle cx="385.4" cy="550.3" r="1.9"/><circle cx="384.6" cy="550.7" r="1.9"/><circle cx="397.3" cy="551.6" r="1.9"/><circle cx="400.9" cy="551.6" r="1.9"/><circle cx="406.9" cy="550.3" r="1.9"/><circle cx="412.5" cy="550.3" r="1.9"/><circle cx="415.6" cy="549.3" r="1.9"/><circle cx="408.0" cy="553.6" r="1.9"/><circle cx="409.3" cy="554.6" r="1.9"/><circle cx="410.3" cy="552.9" r="1.9"/><circle cx="411.6" cy="552.0" r="1.9"/><circle cx="418.9" cy="554.2" r="1.9"/><circle cx="420.9" cy="554.9" r="1.9"/><circle cx="383.6" cy="554.6" r="1.9"/><circle cx="402.3" cy="557.8" r="1.9"/><circle cx="402.9" cy="559.6" r="1.9"/><circle cx="411.6" cy="559.6" r="1.9"/><circle cx="414.2" cy="558.9" r="1.9"/><circle cx="414.2" cy="561.3" r="1.9"/><circle cx="429.9" cy="559.6" r="1.9"/><circle cx="393.0" cy="564.9" r="1.9"/><circle cx="400.3" cy="566.2" r="1.9"/><circle cx="402.3" cy="566.2" r="1.9"/><circle cx="408.9" cy="566.2" r="1.9"/><circle cx="416.6" cy="565.2" r="1.9"/><circle cx="421.3" cy="566.9" r="1.9"/><circle cx="426.9" cy="568.2" r="1.9"/><circle cx="391.0" cy="569.5" r="1.9"/><circle cx="397.3" cy="570.2" r="1.9"/><circle cx="394.7" cy="571.9" r="1.9"/><circle cx="413.6" cy="569.5" r="1.9"/><circle cx="412.9" cy="571.5" r="1.9"/><circle cx="427.9" cy="573.5" r="1.9"/><circle cx="387.0" cy="572.9" r="1.9"/><circle cx="389.4" cy="575.5" r="1.9"/><circle cx="391.0" cy="575.1" r="1.9"/><circle cx="398.3" cy="575.1" r="1.9"/><circle cx="401.3" cy="576.5" r="1.9"/><circle cx="418.2" cy="574.9" r="1.9"/><circle cx="422.6" cy="576.2" r="1.9"/><circle cx="424.0" cy="576.5" r="1.9"/><circle cx="379.0" cy="577.3" r="1.9"/><circle cx="375.7" cy="579.9" r="1.9"/><circle cx="398.7" cy="579.9" r="1.9"/><circle cx="405.6" cy="578.9" r="1.9"/><circle cx="418.2" cy="579.1" r="1.9"/><circle cx="406.3" cy="583.2" r="1.9"/><circle cx="407.6" cy="586.8" r="1.9"/><circle cx="406.9" cy="588.8" r="1.9"/><circle cx="408.3" cy="587.5" r="1.9"/><circle cx="420.2" cy="588.4" r="1.9"/><circle cx="381.4" cy="590.2" r="1.9"/><circle cx="406.9" cy="590.8" r="1.9"/><circle cx="414.2" cy="590.2" r="1.9"/><circle cx="414.6" cy="592.4" r="1.9"/><circle cx="400.3" cy="591.9" r="1.9"/><circle cx="401.6" cy="593.2" r="1.9"/><circle cx="419.6" cy="594.2" r="1.9"/><circle cx="372.8" cy="503.9" r="1.9"/><circle cx="364.2" cy="525.4" r="1.9"/><circle cx="372.2" cy="544.0" r="1.9"/><circle cx="364.6" cy="557.6" r="1.9"/><circle cx="369.5" cy="560.4" r="1.9"/><circle cx="437.4" cy="557.4" r="1.9"/><circle cx="439.9" cy="556.1" r="1.9"/><circle cx="439.9" cy="562.6" r="1.9"/><circle cx="417.9" cy="598.9" r="1.9"/><circle cx="427.2" cy="601.2" r="1.9"/><circle cx="417.5" cy="606.9" r="1.9"/><circle cx="433.3" cy="609.4" r="1.9"/><circle cx="416.6" cy="617.6" r="1.9"/><circle cx="425.7" cy="621.3" r="1.9"/></g>
<line x1="310.9" y1="524.4" x2="438.4" y2="577.0" stroke="#000" stroke-width="1.4"/>
<rect x="280.5" y="476.7" width="165.1" height="165.8" fill="none" stroke="#000" stroke-width="1.3"/>
<line x1="277.5" y1="642.5" x2="280.5" y2="642.5" stroke="#000" stroke-width="1.3"/>
<text x="276.5" y="647.0" font-size="13" text-anchor="end">-4</text>
<line x1="278.5" y1="621.8" x2="280.5" y2="621.8" stroke="#000" stroke-width="1.3"/>
<line x1="277.5" y1="601.0" x2="280.5" y2="601.0" stroke="#000" stroke-width="1.3"/>
<text x="276.5" y="605.5" font-size="13" text-anchor="end">-2</text>
<line x1="278.5" y1="580.3" x2="280.5" y2="580.3" stroke="#000" stroke-width="1.3"/>
<line x1="277.5" y1="559.6" x2="280.5" y2="559.6" stroke="#000" stroke-width="1.3"/>
<text x="276.5" y="564.1" font-size="13" text-anchor="end">0</text>
<line x1="278.5" y1="538.9" x2="280.5" y2="538.9" stroke="#000" stroke-width="1.3"/>
<line x1="277.5" y1="518.1" x2="280.5" y2="518.1" stroke="#000" stroke-width="1.3"/>
<text x="276.5" y="522.6" font-size="13" text-anchor="end">2</text>
<line x1="278.5" y1="497.4" x2="280.5" y2="497.4" stroke="#000" stroke-width="1.3"/>
<line x1="277.5" y1="476.7" x2="280.5" y2="476.7" stroke="#000" stroke-width="1.3"/>
<text x="276.5" y="481.2" font-size="13" text-anchor="end">4</text>
<line x1="280.5" y1="642.5" x2="280.5" y2="645.5" stroke="#000" stroke-width="1.3"/>
<text x="280.5" y="658.5" font-size="13" text-anchor="middle">-6</text>
<line x1="321.8" y1="642.5" x2="321.8" y2="645.5" stroke="#000" stroke-width="1.3"/>
<text x="321.8" y="658.5" font-size="13" text-anchor="middle">-4</text>
<line x1="363.1" y1="642.5" x2="363.1" y2="645.5" stroke="#000" stroke-width="1.3"/>
<text x="363.1" y="658.5" font-size="13" text-anchor="middle">-2</text>
<line x1="404.3" y1="642.5" x2="404.3" y2="645.5" stroke="#000" stroke-width="1.3"/>
<text x="404.3" y="658.5" font-size="13" text-anchor="middle">0</text>
<line x1="445.6" y1="642.5" x2="445.6" y2="645.5" stroke="#000" stroke-width="1.3"/>
<text x="445.6" y="658.5" font-size="13" text-anchor="middle">2</text>
<text x="363.1" y="677.8" font-size="14.75" text-anchor="middle">miR-200c</text>
<text transform="translate(252.3,558.5) rotate(-90)" font-size="13.5" font-style="italic" text-anchor="middle">ADAM12-L</text>
<text x="288.2" y="622.7" font-size="11"><tspan font-style="italic">r</tspan> = -0.3588</text>
<text x="288.2" y="635.7" font-size="11"><tspan font-style="italic">P</tspan> = 0.0002</text>
<text x="1.2" y="722.8" font-size="20.5" font-weight="bold">B</text>
<rect x="60.8" y="828.6" width="36.8" height="74.3" fill="#d9d9d9" stroke="#000" stroke-width="1.4"/>
<line x1="79.2" y1="902.9" x2="79.2" y2="906.9" stroke="#000" stroke-width="1.4"/>
<text transform="translate(79.8,920.8) rotate(-45)" font-size="16.8" text-anchor="end">Control</text>
<line x1="133.25" y1="764.9" x2="133.25" y2="767.6" stroke="#000" stroke-width="1.4"/>
<line x1="123.75" y1="764.9" x2="142.75" y2="764.9" stroke="#000" stroke-width="1.4"/>
<rect x="114.8" y="767.6" width="36.8" height="135.3" fill="#9e1a55" stroke="#000" stroke-width="1.4"/>
<polygon points="130.00,752.45 130.82,754.52 133.04,754.66 131.33,756.08 131.88,758.24 130.00,757.05 128.12,758.24 128.67,756.08 126.96,754.66 129.18,754.52" fill="#000"/>
<polygon points="136.30,752.45 137.12,754.52 139.34,754.66 137.63,756.08 138.18,758.24 136.30,757.05 134.42,758.24 134.97,756.08 133.26,754.66 135.48,754.52" fill="#000"/>
<line x1="133.25" y1="902.9" x2="133.25" y2="906.9" stroke="#000" stroke-width="1.4"/>
<text transform="translate(136.8,918.3) rotate(-45)" font-size="16.8" text-anchor="end">anti-miR-29b</text>
<line x1="187.75" y1="803.5" x2="187.75" y2="812.0" stroke="#000" stroke-width="1.4"/>
<line x1="178.25" y1="803.5" x2="197.25" y2="803.5" stroke="#000" stroke-width="1.4"/>
<rect x="169.3" y="812.0" width="36.8" height="90.9" fill="#53199a" stroke="#000" stroke-width="1.4"/>
<line x1="187.75" y1="902.9" x2="187.75" y2="906.9" stroke="#000" stroke-width="1.4"/>
<text transform="translate(191.3,918.3) rotate(-45)" font-size="16.8" text-anchor="end">anti-miR-200c</text>
<rect x="52.2" y="739.4" width="162.7" height="163.5" fill="none" stroke="#000" stroke-width="1.4"/>
<line x1="46.7" y1="902.9" x2="52.2" y2="902.9" stroke="#000" stroke-width="1.4"/>
<text x="45.7" y="907.4" font-size="13" text-anchor="end">0</text>
<line x1="46.7" y1="828.6" x2="52.2" y2="828.6" stroke="#000" stroke-width="1.4"/>
<text x="45.7" y="833.1" font-size="13" text-anchor="end">1</text>
<line x1="46.7" y1="754.3" x2="52.2" y2="754.3" stroke="#000" stroke-width="1.4"/>
<text x="45.7" y="758.8" font-size="13" text-anchor="end">2</text>
<line x1="48.900000000000006" y1="865.7" x2="52.2" y2="865.7" stroke="#000" stroke-width="1.4"/>
<line x1="48.900000000000006" y1="791.4" x2="52.2" y2="791.4" stroke="#000" stroke-width="1.4"/>
<text x="133.6" y="730.4" font-size="19.3" text-anchor="middle">SUM102PT</text>
<text transform="translate(25.9,817) rotate(-90)" font-size="14.8" text-anchor="middle"><tspan font-style="italic">ADAM12-L</tspan> mRNA</text>
<rect x="291.9" y="808.9" width="36.8" height="93.4" fill="#d9d9d9" stroke="#000" stroke-width="1.4"/>
<line x1="310.3" y1="902.3" x2="310.3" y2="906.3" stroke="#000" stroke-width="1.4"/>
<text transform="translate(310.9,920.2) rotate(-45)" font-size="16.8" text-anchor="end">Control</text>
<line x1="364.8" y1="762.5" x2="364.8" y2="765.6" stroke="#000" stroke-width="1.4"/>
<line x1="355.3" y1="762.5" x2="374.3" y2="762.5" stroke="#000" stroke-width="1.4"/>
<rect x="346.4" y="765.6" width="36.8" height="136.7" fill="#9e1a55" stroke="#000" stroke-width="1.4"/>
<polygon points="361.80,750.35 362.62,752.42 364.84,752.56 363.13,753.98 363.68,756.14 361.80,754.95 359.92,756.14 360.47,753.98 358.76,752.56 360.98,752.42" fill="#000"/>
<polygon points="368.10,750.35 368.92,752.42 371.14,752.56 369.43,753.98 369.98,756.14 368.10,754.95 366.22,756.14 366.77,753.98 365.06,752.56 367.28,752.42" fill="#000"/>
<line x1="364.8" y1="902.3" x2="364.8" y2="906.3" stroke="#000" stroke-width="1.4"/>
<text transform="translate(368.4,917.7) rotate(-45)" font-size="16.8" text-anchor="end">anti-miR-29b</text>
<line x1="419.5" y1="772.6" x2="419.5" y2="780.9" stroke="#000" stroke-width="1.4"/>
<line x1="410.0" y1="772.6" x2="429.0" y2="772.6" stroke="#000" stroke-width="1.4"/>
<rect x="401.1" y="780.9" width="36.8" height="121.4" fill="#53199a" stroke="#000" stroke-width="1.4"/>
<polygon points="420.20,762.65 421.02,764.72 423.24,764.86 421.53,766.28 422.08,768.44 420.20,767.25 418.32,768.44 418.87,766.28 417.16,764.86 419.38,764.72" fill="#000"/>
<line x1="419.5" y1="902.3" x2="419.5" y2="906.3" stroke="#000" stroke-width="1.4"/>
<text transform="translate(423.1,917.7) rotate(-45)" font-size="16.8" text-anchor="end">anti-miR-200c</text>
<rect x="283.2" y="738.9" width="163.4" height="163.4" fill="none" stroke="#000" stroke-width="1.4"/>
<line x1="277.7" y1="902.3" x2="283.2" y2="902.3" stroke="#000" stroke-width="1.4"/>
<text x="276.7" y="906.8" font-size="13" text-anchor="end">0.0</text>
<line x1="277.7" y1="855.6" x2="283.2" y2="855.6" stroke="#000" stroke-width="1.4"/>
<text x="276.7" y="860.1" font-size="13" text-anchor="end">0.5</text>
<line x1="277.7" y1="808.9" x2="283.2" y2="808.9" stroke="#000" stroke-width="1.4"/>
<text x="276.7" y="813.4" font-size="13" text-anchor="end">1.0</text>
<line x1="277.7" y1="762.2" x2="283.2" y2="762.2" stroke="#000" stroke-width="1.4"/>
<text x="276.7" y="766.7" font-size="13" text-anchor="end">1.5</text>
<line x1="279.9" y1="879.0" x2="283.2" y2="879.0" stroke="#000" stroke-width="1.4"/>
<line x1="279.9" y1="832.3" x2="283.2" y2="832.3" stroke="#000" stroke-width="1.4"/>
<line x1="279.9" y1="785.6" x2="283.2" y2="785.6" stroke="#000" stroke-width="1.4"/>
<text x="364.9" y="730.4" font-size="19.3" text-anchor="middle">SUM149PT</text>
<text transform="translate(248.9,817) rotate(-90)" font-size="14.8" text-anchor="middle"><tspan font-style="italic">ADAM12-L</tspan> mRNA</text>
</svg></body></html>
